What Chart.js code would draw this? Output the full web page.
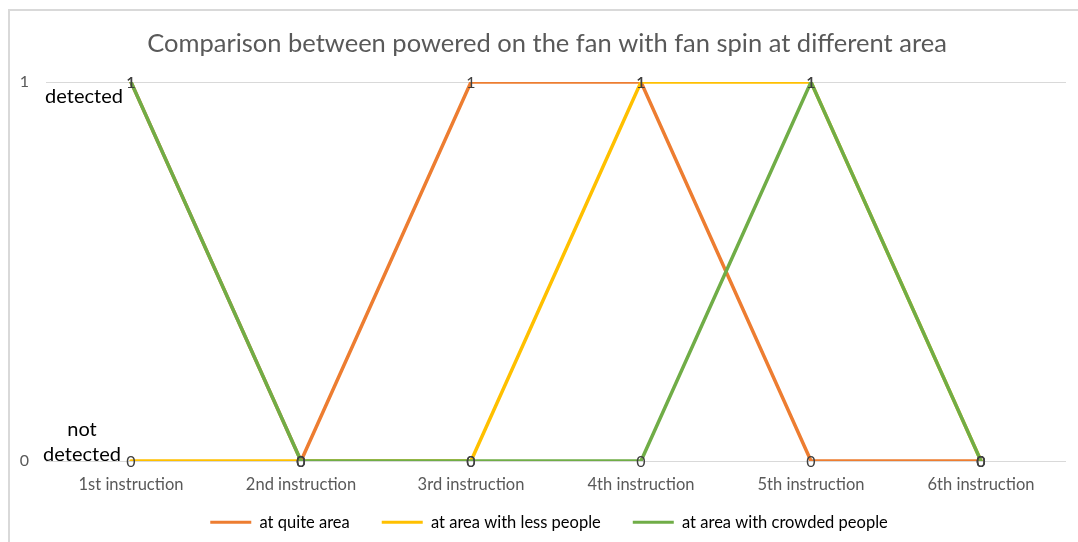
<!DOCTYPE html>
<html>
<head>
<meta charset="utf-8">
<script src="https://cdn.jsdelivr.net/npm/chart.js@4.4.1/dist/chart.umd.min.js"></script>
<style>
  html, body { margin: 0; padding: 0; background: #ffffff; }
  #wrap { width: 1078px; height: 542px; position: relative; }
</style>
</head>
<body>
<div id="wrap"><canvas id="chart" width="1078" height="542"></canvas></div>
<script>
// Instruction steps along the horizontal axis
const categories = ['1st instruction', '2nd instruction', '3rd instruction', '4th instruction', '5th instruction', '6th instruction'];

// Detection result per instruction (1 = detected, 0 = not detected)
const quietArea = [1, 0, 1, 1, 0, 0];
const lessPeopleArea = [0, 0, 0, 1, 1, 0];
const crowdedPeopleArea = [1, 0, 0, 0, 1, 0];

const seriesNames = ['at quite area', 'at area with less people', 'at area with crowded people'];
const yTicks = [0, 1];

const titleText = 'Comparison between powered on the fan with fan spin at different area';

const FONT = 'Lato, "Liberation Sans", sans-serif';
const COLORS = ['#ED7D31', '#FFC000', '#70AD47'];

// Outer frame of the chart object
const framePlugin = {
  id: 'frame',
  beforeDraw(chart) {
    const ctx = chart.ctx;
    ctx.save();
    ctx.strokeStyle = '#d9d9d9';
    ctx.lineWidth = 2;
    ctx.beginPath();
    ctx.moveTo(9, chart.height + 5);
    ctx.lineTo(9, 10);
    ctx.lineTo(chart.width + 5, 10);
    ctx.stroke();
    ctx.restore();
  }
};

// Shift a block's drawing method by a fixed offset
function offsetMethod(block, name, dx, dy) {
  const fn = block[name];
  block[name] = function (...args) {
    const ctx = this.ctx;
    ctx.save();
    ctx.translate(dx, dy);
    fn.apply(this, args);
    ctx.restore();
  };
}

// Compact legend band (items stay widely spaced) and centred title/legend over the frame
const blocksPlugin = {
  id: 'blocks',
  afterInit(chart) {
    const lg = chart.legend;
    if (lg) {
      const fit = lg.fit;
      lg.fit = function () {
        fit.call(this);
        this.height = 40;
      };
      offsetMethod(lg, '_draw', 16, -20);
    }
    if (chart.titleBlock) offsetMethod(chart.titleBlock, 'draw', 14, 0);
  }
};

// Value labels centred on each point, plus the state captions near the y axis
const labelPlugin = {
  id: 'valueLabels',
  afterDatasetsDraw(chart) {
    const ctx = chart.ctx;
    ctx.save();
    ctx.font = '16px ' + FONT;
    ctx.fillStyle = '#404040';
    ctx.textAlign = 'center';
    ctx.textBaseline = 'middle';
    chart.data.datasets.forEach((ds, i) => {
      const meta = chart.getDatasetMeta(i);
      meta.data.forEach((pt, j) => {
        ctx.fillText(String(ds.data[j]), pt.x, pt.y + 1);
      });
    });

    const y = chart.scales.y;
    const area = chart.chartArea;
    ctx.font = '20px ' + FONT;
    ctx.fillStyle = '#000000';
    ctx.textAlign = 'center';
    ctx.fillText('detected', area.left + 38, y.getPixelForValue(1) + 14);
    ctx.fillText('not', area.left + 36, y.getPixelForValue(0) - 31);
    ctx.fillText('detected', area.left + 36, y.getPixelForValue(0) - 6);
    ctx.restore();
  }
};

const datasets = [quietArea, lessPeopleArea, crowdedPeopleArea].map((vals, i) => ({
  label: seriesNames[i],
  data: vals,
  borderColor: COLORS[i],
  backgroundColor: COLORS[i],
  borderWidth: 3.5,
  pointRadius: 0,
  pointHoverRadius: 0,
  tension: 0,
  fill: false,
  borderCapStyle: 'round',
  borderJoinStyle: 'round',
  order: 3 - i
}));

new Chart(document.getElementById('chart'), {
  type: 'line',
  data: { labels: categories, datasets },
  options: {
    responsive: false,
    animation: false,
    devicePixelRatio: 1,
    layout: { padding: { left: 0, right: 12, top: 28, bottom: 0 } },
    plugins: {
      title: {
        display: true,
        text: titleText,
        color: '#595959',
        font: { family: FONT, size: 25.5, weight: 'normal' },
        padding: { top: 0, bottom: 23.5 }
      },
      legend: {
        position: 'bottom',
        labels: {
          color: '#595959',
          font: { family: FONT, size: 16.5 },
          boxWidth: 41,
          boxHeight: 3,
          padding: 32,
          generateLabels(chart) {
            return chart.data.datasets.map((ds, i) => ({
              text: ds.label,
              fillStyle: ds.borderColor,
              strokeStyle: ds.borderColor,
              lineWidth: 0,
              hidden: false,
              datasetIndex: i
            }));
          }
        }
      },
      tooltip: { enabled: false }
    },
    scales: {
      x: {
        offset: true,
        afterFit(scale) { scale.height = 41; },
        grid: { display: false, drawTicks: false },
        border: { display: false },
        ticks: { color: '#595959', font: { family: FONT, size: 16.5 }, padding: 14, maxRotation: 0 }
      },
      y: {
        min: 0,
        max: 1,
        afterBuildTicks(scale) { scale.ticks = yTicks.map(v => ({ value: v })); },
        afterFit(scale) { scale.width = 46; },
        grid: { color: '#d9d9d9', lineWidth: 1, drawTicks: false },
        border: { display: false },
        ticks: { color: '#595959', font: { family: FONT, size: 16 }, padding: 17 }
      }
    }
  },
  plugins: [framePlugin, blocksPlugin, labelPlugin]
});
</script>
</body>
</html>
